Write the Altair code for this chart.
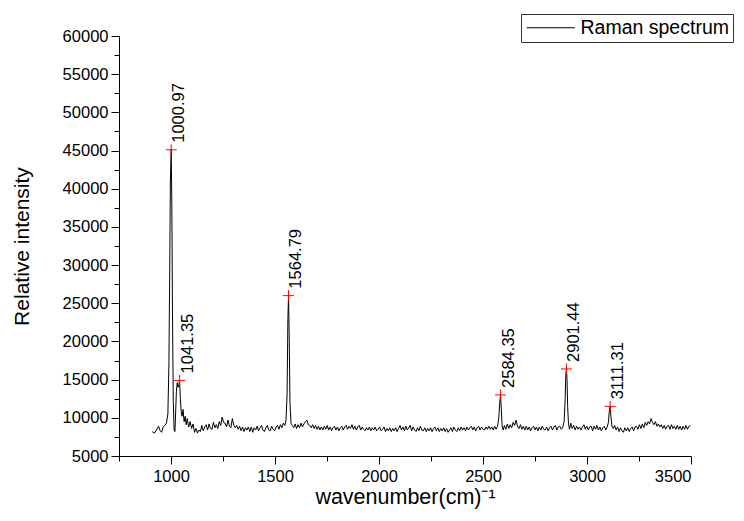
import altair as alt
import pandas as pd

# ---- spectrum data ----
wavenumber = [
    910, 920, 930, 940, 948, 955, 962, 970, 978, 985, 990, 994, 997, 1001, 1004, 1007, 1011, 1015, 1019, 1022,
    1026, 1030, 1034, 1038, 1041, 1045, 1049, 1053, 1058, 1063, 1068, 1073, 1078, 1085, 1092, 1099, 1106, 1113, 1120, 1127,
    1134, 1141, 1148, 1155, 1162, 1169, 1176, 1183, 1190, 1197, 1204, 1211, 1218, 1225, 1232, 1239, 1246, 1253, 1260, 1267,
    1274, 1281, 1288, 1295, 1302, 1309, 1316, 1323, 1330, 1337, 1344, 1351, 1358, 1365, 1372, 1379, 1386, 1393, 1400, 1407,
    1414, 1421, 1428, 1435, 1442, 1449, 1456, 1463, 1470, 1477, 1484, 1491, 1498, 1505, 1512, 1519, 1526, 1533, 1540, 1547,
    1553, 1558, 1562, 1565, 1568, 1572, 1577, 1583, 1590, 1597, 1604, 1611, 1618, 1625, 1632, 1639, 1646, 1653, 1660, 1667,
    1674, 1681, 1688, 1695, 1702, 1709, 1716, 1723, 1730, 1737, 1744, 1751, 1758, 1765, 1772, 1779, 1786, 1793, 1800, 1807,
    1814, 1821, 1828, 1835, 1842, 1849, 1856, 1863, 1870, 1877, 1884, 1891, 1898, 1905, 1912, 1919, 1926, 1933, 1940, 1947,
    1954, 1961, 1968, 1975, 1982, 1989, 1996, 2003, 2010, 2017, 2024, 2031, 2038, 2045, 2052, 2059, 2066, 2073, 2080, 2087,
    2094, 2101, 2108, 2115, 2122, 2129, 2136, 2143, 2150, 2157, 2164, 2171, 2178, 2185, 2192, 2199, 2206, 2213, 2220, 2227,
    2234, 2241, 2248, 2255, 2262, 2269, 2276, 2283, 2290, 2297, 2304, 2311, 2318, 2325, 2332, 2339, 2346, 2353, 2360, 2367,
    2374, 2381, 2388, 2395, 2402, 2409, 2416, 2423, 2430, 2437, 2444, 2451, 2458, 2465, 2472, 2479, 2486, 2493, 2500, 2507,
    2514, 2521, 2528, 2535, 2542, 2549, 2556, 2563, 2570, 2576, 2580, 2584, 2588, 2592, 2597, 2603, 2610, 2617, 2624, 2631,
    2638, 2645, 2652, 2659, 2666, 2673, 2680, 2687, 2694, 2701, 2708, 2715, 2722, 2729, 2736, 2743, 2750, 2757, 2764, 2771,
    2778, 2785, 2792, 2799, 2806, 2813, 2820, 2827, 2834, 2841, 2848, 2855, 2862, 2869, 2876, 2883, 2890, 2895, 2898, 2901,
    2904, 2907, 2911, 2916, 2922, 2929, 2936, 2943, 2950, 2957, 2964, 2971, 2978, 2985, 2992, 2999, 3006, 3013, 3020, 3027,
    3034, 3041, 3048, 3055, 3062, 3069, 3076, 3083, 3090, 3097, 3103, 3107, 3111, 3115, 3120, 3126, 3133, 3140, 3147, 3154,
    3161, 3168, 3175, 3182, 3189, 3196, 3203, 3210, 3217, 3224, 3231, 3238, 3245, 3252, 3259, 3266, 3273, 3280, 3287, 3294,
    3301, 3308, 3315, 3322, 3329, 3336, 3343, 3350, 3357, 3364, 3371, 3378, 3385, 3392, 3399, 3406, 3413, 3420, 3427, 3434,
    3441, 3448, 3455, 3462, 3469, 3476, 3483, 3490, 3497,
]
intensity = [
    8200, 8000, 8400, 8900, 8300, 8100, 8800, 9000, 9300, 10500, 17000, 30000, 41000, 45100, 38000, 24000, 12000, 8400, 8200, 10500,
    13500, 14600, 14000, 14300, 14900, 12500, 10800, 10200, 11100, 9500, 10200, 9100, 9900, 8800, 9500, 8600, 9200, 8100, 8600, 8000,
    8400, 8200, 9000, 8300, 8800, 9100, 8400, 9200, 8600, 8500, 9400, 8700, 9100, 8600, 9500, 9000, 10100, 9400, 9300, 8800,
    9700, 8900, 8700, 9900, 9000, 8700, 9000, 8500, 8900, 8300, 8800, 8200, 8700, 8400, 8800, 8200, 8800, 8100, 8700, 8400,
    8900, 8300, 8700, 9000, 8400, 8200, 8700, 9000, 8400, 8300, 8900, 8500, 8300, 8800, 9000, 8500, 9100, 8700, 9300, 9000,
    9700, 13000, 23000, 26000, 21000, 12000, 9300, 9000, 8700, 9200, 8600, 9100, 8700, 9300, 8800, 9200, 9500, 9700, 9100, 9000,
    8700, 9100, 8600, 9000, 8500, 8900, 8400, 8800, 8400, 8900, 8500, 9000, 8400, 8800, 8300, 8700, 8900, 8400, 8800, 8300,
    8700, 8900, 8400, 8800, 9000, 8500, 8900, 8600, 9100, 8500, 8900, 8400, 8800, 9000, 8400, 8800, 8500, 8300, 8700, 8400,
    8800, 8300, 8700, 8400, 8800, 8300, 8500, 8800, 8300, 8500, 8800, 8200, 8600, 8300, 8700, 8200, 8600, 8300, 8700, 8200,
    8600, 9000, 8400, 8800, 8300, 8900, 8400, 8700, 9000, 8300, 8800, 8400, 8200, 8700, 8300, 8900, 8400, 8300, 8700, 8200,
    8600, 8300, 8700, 8200, 8600, 8800, 8300, 8700, 8200, 8600, 8300, 8700, 8200, 8600, 8100, 8400, 8700, 8200, 8800, 8400,
    8200, 8700, 8300, 8800, 8400, 8700, 8300, 8800, 8400, 8700, 8900, 8400, 8800, 8300, 8700, 8900, 8400, 8800, 8500, 8400,
    8800, 8500, 8900, 8500, 8800, 8400, 8900, 8500, 8900, 10000, 11800, 13000, 11200, 8900, 8400, 9000, 8500, 9200, 8600, 9100,
    8700, 9400, 9000, 9700, 8900, 8600, 9100, 8500, 8900, 8400, 8900, 8400, 8800, 8300, 8700, 8900, 8400, 8800, 8300, 8800,
    8400, 8900, 8500, 8400, 8800, 8300, 8700, 8900, 8400, 8800, 9000, 8400, 8800, 8900, 8500, 8700, 9500, 12500, 15500, 16400,
    15000, 11500, 9200, 8500, 9300, 8600, 9000, 8400, 8900, 8500, 8800, 8400, 8800, 9100, 8500, 8900, 8400, 8800, 8900, 8300,
    8900, 8500, 9000, 8400, 8800, 8300, 8700, 8900, 8400, 8800, 9400, 10800, 11500, 10200, 8900, 8600, 9000, 8400, 8800, 8200,
    8700, 8300, 8100, 8700, 8300, 8700, 8200, 8600, 8800, 8300, 8800, 8900, 8500, 9100, 8600, 9200, 8700, 9400, 9000, 9500,
    9200, 9900, 9400, 9100, 9500, 8900, 9200, 8800, 9100, 8600, 9000, 8500, 8900, 9000, 8500, 9100, 8600, 8900, 8500, 9000,
    8500, 8900, 8400, 8900, 8500, 9000, 8500, 8900, 9000,
]
series_name = ["Raman spectrum"]

peak_x = [1000.97, 1041.35, 1564.79, 2584.35, 2901.44, 3111.31]
peak_y = [45100, 14900, 26000, 13000, 16400, 11500]
peak_label = ["1000.97", "1041.35", "1564.79", "2584.35", "2901.44", "3111.31"]

x_major = [1000, 1500, 2000, 2500, 3000, 3500]
x_minor = [750, 1250, 1750, 2250, 2750, 3250]
y_major = [5000, 10000, 15000, 20000, 25000, 30000, 35000, 40000, 45000, 50000, 55000, 60000]
y_minor = [7500, 12500, 17500, 22500, 27500, 32500, 37500, 42500, 47500, 52500, 57500]

df = pd.DataFrame({"wn": wavenumber, "I": intensity, "series": series_name * len(wavenumber)})
peaks = pd.DataFrame({"wn": peak_x, "I": peak_y, "label": peak_label})

FONT = "Liberation Sans"
xs = alt.Scale(domain=[750, 3500], nice=False, zero=False)
ys = alt.Scale(domain=[5000, 60000], nice=False, zero=False)

line = alt.Chart(df).mark_line(strokeWidth=1, interpolate="linear").encode(
    x=alt.X("wn:Q", scale=xs, axis=alt.Axis(
        values=x_major, tickSize=8, labelPadding=4, title="wavenumber(cm)⁻¹",
        titlePadding=2, titleFontSize=21.5, grid=False, orient="bottom", format="d")),
    y=alt.Y("I:Q", scale=ys, axis=alt.Axis(
        values=y_major, tickSize=8, labelPadding=3, title="Relative intensity",
        titlePadding=30, titleFontSize=21, grid=False, orient="left", format="d")),
    color=alt.Color("series:N", scale=alt.Scale(range=["black"]), legend=alt.Legend(
        title=None, orient="none", legendX=402, legendY=-22, symbolType="M-1,0L5,0",
        symbolSize=256, symbolStrokeWidth=1, strokeColor="#333333", padding=4,
        labelFontSize=19.5, labelFont=FONT, labelColor="black", labelOffset=36,
        cornerRadius=0, fillColor="white")),
)

minor = alt.Chart(df).mark_line(opacity=0).encode(
    x=alt.X("wn:Q", scale=xs, axis=alt.Axis(
        values=x_minor, tickSize=5, labels=False, domain=False, title="", grid=False, orient="bottom")),
    y=alt.Y("I:Q", scale=ys, axis=alt.Axis(
        values=y_minor, tickSize=5, labels=False, domain=False, title="", grid=False, orient="left")),
)

marks = alt.Chart(peaks).mark_point(
    shape="M-1,0L1,0M0,-1L0,1", size=121, color="red", strokeWidth=1, filled=False, opacity=1
).encode(
    x=alt.X("wn:Q", scale=xs, axis=None),
    y=alt.Y("I:Q", scale=ys, axis=None),
)

labels = alt.Chart(peaks).mark_text(
    angle=270, align="left", baseline="top", dx=7, dy=0, fontSize=16.5, font=FONT, color="black"
).encode(
    x=alt.X("wn:Q", scale=xs, axis=None),
    y=alt.Y("I:Q", scale=ys, axis=None),
    text="label:N",
)

chart = alt.layer(line, minor, marks, labels).resolve_axis(
    x="independent", y="independent"
).properties(
    width=572, height=420,
    autosize=alt.AutoSizeParams(type="none"),
    padding={"left": 111, "top": 28, "right": 45, "bottom": 56},
).configure_view(stroke=None).configure_axis(
    domainColor="black", tickColor="black", labelColor="black", titleColor="black",
    labelFont=FONT, titleFont=FONT, labelFontSize=16.5, titleFontSize=20,
    titleFontWeight="normal", domainWidth=1, tickWidth=1,
)

chart.save("out.html", embed_options={"renderer": "svg", "actions": False})
